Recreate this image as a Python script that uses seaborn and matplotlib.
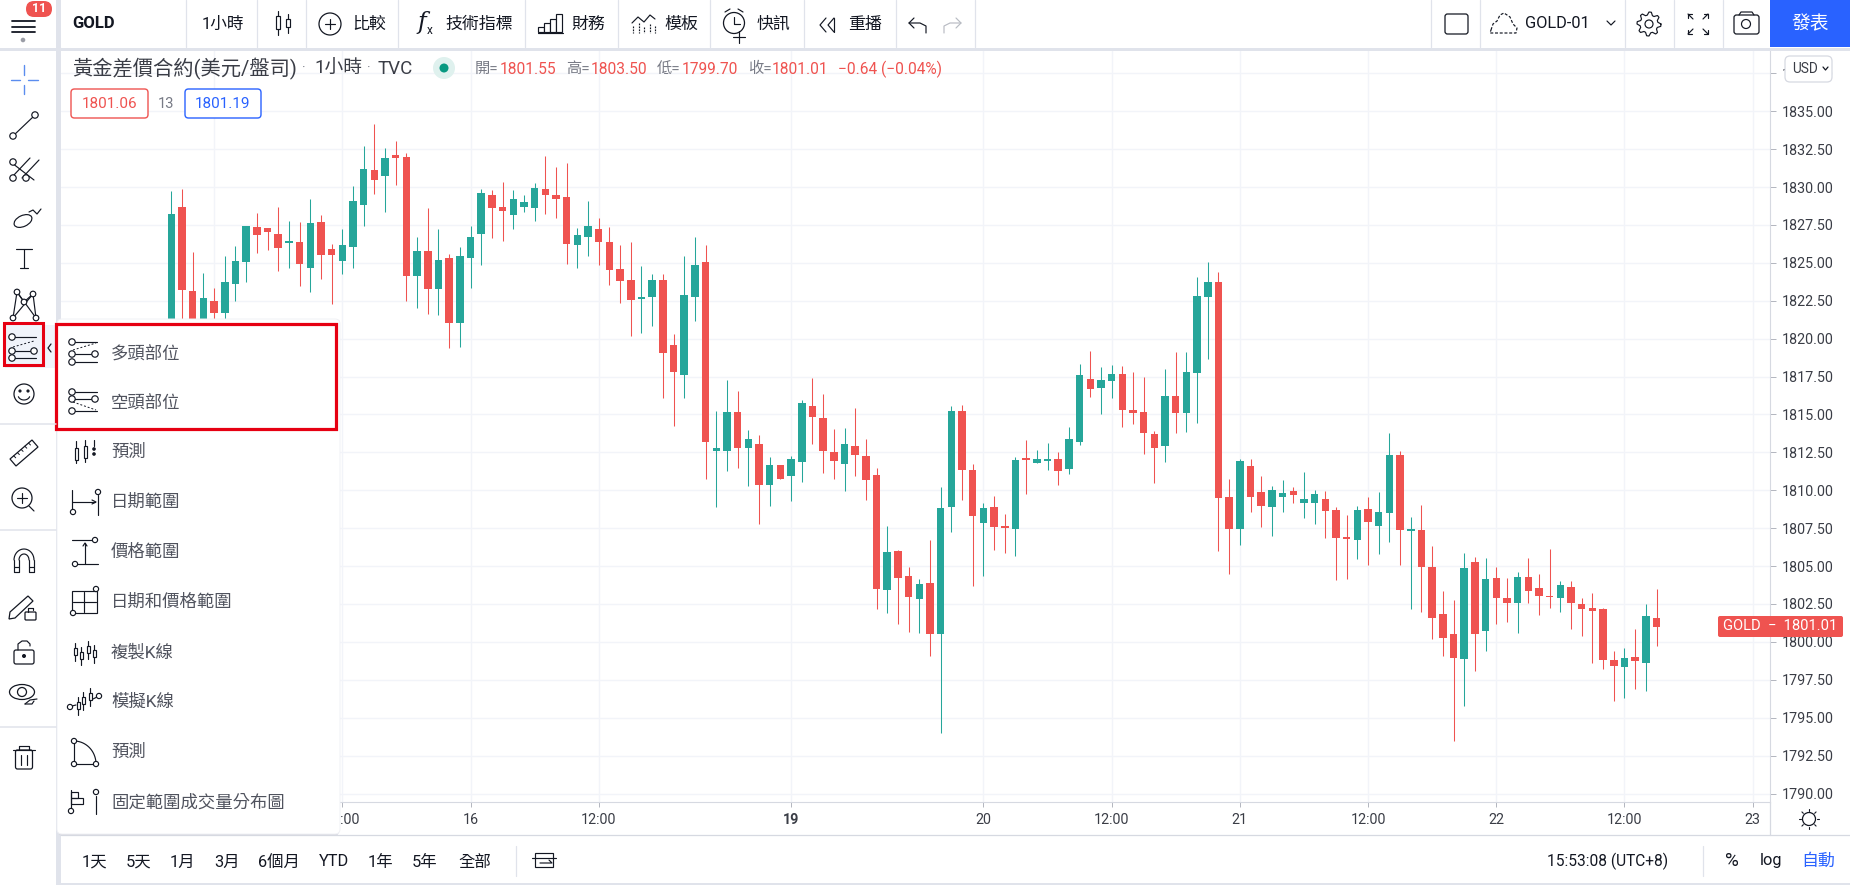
"""
GOLD 1h candlestick chart with the drawing-tools menu open
"""

import numpy as np
import pandas as pd
import matplotlib
matplotlib.use('Agg')
import matplotlib.pyplot as plt
import seaborn as sns
from matplotlib.patches import Rectangle, Circle, FancyBboxPatch, Ellipse, Polygon

# candle values
opens = [
    1820.58, 1828.70, 1823.15, 1820.80, 1822.50, 1821.70, 1823.62, 1825.07, 1827.38, 1827.31,
    1826.92, 1826.32, 1826.39, 1824.67, 1827.71, 1825.93, 1825.13, 1826.06, 1828.83, 1831.14,
    1830.74, 1832.13, 1831.99, 1824.14, 1825.79, 1823.29, 1825.33, 1821.04, 1825.33, 1826.92,
    1829.49, 1828.70, 1828.17, 1828.70, 1828.63, 1829.88, 1829.49, 1829.36, 1826.19, 1826.72,
    1827.25, 1826.39, 1824.60, 1823.88, 1822.63, 1822.76, 1823.88, 1819.59, 1817.61, 1822.76,
    1825.07, 1812.60, 1812.60, 1815.17, 1812.80, 1813.06, 1810.36, 1811.68, 1810.95, 1811.87,
    1815.57, 1814.78, 1812.53, 1811.74, 1812.93, 1812.27, 1811.02, 1803.43, 1806.00, 1804.35,
    1802.84, 1803.89, 1800.53, 1808.91, 1815.24, 1811.35, 1807.85, 1808.91, 1807.65, 1807.45,
    1812.14, 1811.81, 1811.94, 1812.07, 1811.41, 1813.19, 1817.35, 1816.76, 1817.22, 1817.68,
    1815.31, 1815.17, 1813.72, 1812.93, 1816.23, 1815.11, 1817.75, 1822.76, 1823.75, 1809.57,
    1807.45, 1811.61, 1809.90, 1808.91, 1809.57, 1809.96, 1809.17, 1809.17, 1809.43, 1808.70,
    1806.92, 1806.72, 1808.77, 1807.65, 1808.51, 1812.33, 1807.32, 1807.38, 1804.94, 1801.84,
    1800.52, 1798.87, 1805.27, 1800.72, 1804.22, 1802.90, 1802.57, 1804.28, 1803.56, 1803.03,
    1802.90, 1803.62, 1802.50, 1802.24, 1802.17, 1798.81, 1798.35, 1799.01, 1798.61, 1801.55,
]
closes = [
    1828.23, 1823.22, 1820.90, 1822.69, 1821.70, 1823.74, 1825.13, 1827.44, 1826.85, 1827.05,
    1825.99, 1826.39, 1824.94, 1827.64, 1825.53, 1825.53, 1826.19, 1829.09, 1831.20, 1830.48,
    1831.93, 1831.93, 1824.14, 1825.79, 1823.29, 1825.20, 1821.04, 1825.46, 1826.72, 1829.62,
    1828.63, 1828.43, 1829.22, 1829.03, 1829.95, 1829.49, 1829.22, 1826.26, 1826.85, 1827.44,
    1826.39, 1824.54, 1823.81, 1822.56, 1822.76, 1823.88, 1819.06, 1817.81, 1822.89, 1824.87,
    1813.19, 1812.80, 1815.17, 1812.80, 1813.39, 1810.36, 1811.68, 1810.75, 1812.07, 1815.77,
    1814.84, 1812.60, 1811.94, 1813.06, 1812.34, 1810.69, 1803.50, 1805.94, 1804.22, 1802.97,
    1803.83, 1800.53, 1808.84, 1815.24, 1811.35, 1808.31, 1808.84, 1807.59, 1807.52, 1812.01,
    1812.01, 1812.07, 1812.07, 1811.28, 1813.39, 1817.61, 1816.69, 1817.28, 1817.68, 1815.31,
    1815.11, 1813.79, 1812.80, 1816.23, 1815.11, 1817.81, 1822.83, 1823.75, 1809.50, 1807.45,
    1811.94, 1809.57, 1808.97, 1810.03, 1809.83, 1809.70, 1809.43, 1809.76, 1808.64, 1806.86,
    1806.79, 1808.70, 1807.91, 1808.57, 1812.33, 1807.38, 1807.45, 1804.94, 1801.58, 1800.26,
    1798.94, 1804.88, 1800.52, 1804.15, 1802.90, 1802.57, 1804.28, 1803.36, 1803.03, 1802.96,
    1803.76, 1802.57, 1802.17, 1802.04, 1798.81, 1798.41, 1798.94, 1798.74, 1801.71, 1801.01,
]
highs = [
    1829.75, 1829.88, 1825.72, 1824.34, 1823.35, 1825.46, 1826.12, 1827.44, 1828.30, 1827.31,
    1828.70, 1827.77, 1827.71, 1829.22, 1828.17, 1826.26, 1827.25, 1830.08, 1832.72, 1834.17,
    1832.59, 1833.05, 1832.26, 1826.72, 1828.63, 1827.25, 1825.60, 1826.06, 1827.44, 1829.88,
    1829.82, 1830.34, 1829.82, 1829.49, 1830.28, 1832.06, 1831.34, 1831.60, 1827.31, 1829.09,
    1827.97, 1827.38, 1826.19, 1826.39, 1824.80, 1824.28, 1824.28, 1820.32, 1825.46, 1826.72,
    1826.19, 1815.24, 1817.28, 1816.56, 1813.99, 1813.66, 1812.20, 1811.68, 1812.27, 1815.96,
    1817.42, 1816.36, 1814.05, 1814.12, 1815.44, 1813.39, 1811.48, 1807.65, 1806.07, 1804.95,
    1804.16, 1806.73, 1810.23, 1815.57, 1815.63, 1811.74, 1809.17, 1809.63, 1808.44, 1812.20,
    1813.33, 1812.67, 1813.13, 1812.53, 1814.18, 1818.34, 1819.20, 1818.14, 1818.27, 1818.21,
    1817.81, 1817.48, 1813.92, 1818.01, 1819.13, 1819.13, 1824.08, 1825.07, 1824.41, 1810.75,
    1812.07, 1812.07, 1810.95, 1810.29, 1810.69, 1810.23, 1811.21, 1810.02, 1809.96, 1808.90,
    1808.37, 1808.97, 1809.56, 1809.89, 1813.78, 1812.60, 1808.24, 1809.03, 1806.33, 1803.36,
    1802.77, 1805.87, 1805.60, 1805.54, 1804.94, 1804.22, 1804.61, 1805.54, 1804.48, 1806.13,
    1804.02, 1804.02, 1802.90, 1803.23, 1802.24, 1799.40, 1799.60, 1800.85, 1802.50, 1803.50,
]
lows = [
    1819.70, 1820.60, 1820.00, 1820.00, 1820.50, 1820.90, 1822.50, 1823.74, 1825.66, 1825.86,
    1824.47, 1824.67, 1823.49, 1823.09, 1823.96, 1822.30, 1824.28, 1824.67, 1827.44, 1829.55,
    1828.37, 1830.14, 1822.50, 1822.03, 1821.64, 1821.57, 1819.40, 1819.46, 1823.35, 1824.87,
    1826.65, 1826.45, 1827.25, 1828.37, 1827.77, 1828.23, 1827.97, 1824.94, 1824.67, 1825.46,
    1824.87, 1823.55, 1822.36, 1820.19, 1820.38, 1820.85, 1816.10, 1814.25, 1816.10, 1821.18,
    1810.75, 1808.91, 1811.28, 1811.48, 1810.29, 1807.78, 1808.97, 1810.75, 1809.30, 1810.56,
    1813.06, 1811.15, 1810.75, 1809.96, 1810.95, 1809.37, 1802.18, 1801.91, 1801.19, 1800.66,
    1800.59, 1799.08, 1794.00, 1807.26, 1809.37, 1803.69, 1804.35, 1806.07, 1805.87, 1805.67,
    1809.76, 1811.81, 1811.35, 1810.36, 1811.08, 1812.98, 1816.16, 1815.04, 1816.10, 1814.18,
    1814.38, 1812.40, 1810.49, 1811.87, 1813.79, 1813.85, 1814.45, 1818.67, 1806.00, 1804.49,
    1806.40, 1808.58, 1807.59, 1806.99, 1808.58, 1809.17, 1808.18, 1807.78, 1806.86, 1804.09,
    1804.15, 1805.47, 1805.07, 1805.80, 1806.59, 1805.07, 1802.17, 1801.97, 1800.19, 1799.07,
    1793.46, 1795.77, 1798.08, 1799.40, 1801.18, 1801.31, 1800.59, 1802.57, 1801.78, 1802.24,
    1801.97, 1800.85, 1800.39, 1798.61, 1798.21, 1796.10, 1796.30, 1796.89, 1796.76, 1799.70,
]

# axis labels
price_ticks = [1790 + 2.5 * n for n in range(20)]
time_tick_bars = [4, 16, 28, 40, 58, 76, 88, 100, 112, 124, 136, 148]
time_tick_labels = ['15', '12:00', '16', '12:00', '19', '20', '12:00', '21', '12:00', '22', '12:00', '23']

menu_items = ['多頭部位', '空頭部位', '預測', '日期範圍', '價格範圍', '日期和價格範圍',
              '複製K線', '模擬K線', '預測', '固定範圍成交量分布圖']
range_buttons = ['1天', '5天', '1月', '3月', '6個月', 'YTD', '1年', '5年', '全部']

RED = '#ef5350'
GREEN = '#26a69a'
DARK = '#131722'
TEXT = '#3a3d46'
GREY = '#787b86'
BORDER = '#e0e3eb'
GRID = '#f2f4f9'
BLUE = '#2962ff'
BOX_RED = '#e60012'

W, H = 1850, 885

sns.set_theme(style='white')
plt.rcParams['font.family'] = ['Roboto', 'Noto Sans CJK TC', 'DejaVu Sans']
plt.rcParams['axes.unicode_minus'] = False

fig = plt.figure(figsize=(W / 100, H / 100), dpi=100, facecolor=BORDER)


def pixel_axes(zorder):
    a = fig.add_axes([0, 0, 1, 1], zorder=zorder)
    a.set_xlim(0, W)
    a.set_ylim(H, 0)
    a.axis('off')
    a.patch.set_alpha(0)
    a.autoscale(False)
    return a


back = pixel_axes(0)
back.add_patch(Rectangle((61, 50), W - 61, 833, fc='white', ec='none'))

# chart axes
left, right, top, bottom = 61, 1770, 50, 802
ax = fig.add_axes([left / W, 1 - bottom / H, (right - left) / W, (bottom - top) / H], zorder=1)

df = pd.DataFrame({'bar': np.arange(len(opens)), 'open': opens, 'high': highs, 'low': lows, 'close': closes})
df['base'] = df[['open', 'close']].min(axis=1)
df['body'] = (df['close'] - df['open']).abs().clip(lower=0.1)
up = df[df['close'] >= df['open']]
down = df[df['close'] < df['open']]

for part, color in [(up, GREEN), (down, RED)]:
    ax.vlines(part['bar'], part['low'], part['high'], color=color, lw=0.75, zorder=2)
    sns.barplot(data=part, x='bar', y='body', bottom=part['base'].values, native_scale=True,
                color=color, saturation=1, width=0.7, errorbar=None, linewidth=0, ax=ax, zorder=3)

ax.set_xlim(-10.33, 149.62)
ax.set_ylim(1789.44, 1839.04)
ax.set_xlabel('')
ax.set_ylabel('')
ax.set_xticks(time_tick_bars, time_tick_labels)
ax.set_yticks(price_ticks, [f'{p:.2f}' for p in price_ticks])
ax.yaxis.tick_right()
ax.set_axisbelow(True)
ax.grid(True, color=GRID, lw=1)
ax.tick_params(axis='x', length=3.6, width=0.7, color='#b2b5be', labelsize=10.3, labelcolor=TEXT, pad=4.5, bottom=True)
ax.tick_params(axis='y', length=4.3, width=0.7, color='#b2b5be', labelsize=10.3, labelcolor=TEXT, pad=4.5, right=True)
ax.get_xticklabels()[4].set_fontweight('bold')
for name, spine in ax.spines.items():
    spine.set_visible(name in ('bottom', 'right'))
    spine.set_color('#d6d9e1')
    spine.set_linewidth(0.8)

# everything around the chart
ui = pixel_axes(5)


def rect(x, y, w, h, fc='white', ec='none', lw=0.9, **kw):
    ui.add_patch(Rectangle((x, y), w, h, fc=fc, ec=ec, lw=lw, **kw))


def rbox(x, y, w, h, r=3, fc='white', ec='none', lw=0.9, zorder=1):
    ui.add_patch(FancyBboxPatch((x, y), w, h, boxstyle=f'round,pad=0,rounding_size={r}',
                                fc=fc, ec=ec, lw=lw, zorder=zorder))


def seg(xs, ys, c=DARK, lw=0.85, ls='-'):
    ui.plot(xs, ys, color=c, lw=lw, ls=ls, solid_capstyle='round', zorder=2)


def dot(x, y, r=3.2, ec=DARK, fc='white', lw=0.85):
    ui.add_patch(Circle((x, y), r, fc=fc, ec=ec, lw=lw, zorder=3))


def txt(x, y, s, size=12.2, c=DARK, ha='left', **kw):
    ui.text(x, y, s, fontsize=size, color=c, ha=ha, va='center', zorder=6, **kw)


def candle(x, y0, y1, y2, y3, w=4):
    seg([x, x], [y0, y3])
    rect(x - w / 2, y1, w, y2 - y1, ec=DARK, lw=0.85, zorder=2.5)


# bars
rect(0, 0, W, 48)
rect(0, 48, 56, H - 48)
rect(61, 837, W - 61, 46)
for x in [186, 257, 306, 398, 525, 618, 710, 804, 896, 975, 1431, 1480, 1625, 1674, 1723]:
    seg([x, x], [0, 47], c=BORDER, lw=0.9)
seg([56, 61], [48, 48], c=BORDER)
rect(56, 0, 5, 48, fc=BORDER)
rect(0, 48, W, 2.5, fc=BORDER)
seg([61, W], [835, 835], c='#d6d9e1', lw=0.9)
seg([1770, 1770], [802, 835], c='#d6d9e1', lw=0.9)

# top bar: menu and symbol
for y in [21, 26.5, 32]:
    seg([12, 35], [y, y], lw=1.3)
dot(23, 40, 2.3, ec='none', fc='#9a9da6')
rbox(26, 1, 26, 16, r=8, fc=RED)
txt(39, 9, '11', size=9, c='white', ha='center', weight='bold')
txt(72, 24, 'GOLD', size=12, weight='bold')
txt(223, 24, '1小時', ha='center', size=12)

# top bar: tool buttons
candle(278, 11, 16, 29, 35)
candle(288, 14, 19, 27, 33)
ui.add_patch(Circle((330, 24), 11, fc='none', ec=DARK, lw=0.9))
seg([325, 335], [24, 24])
seg([330, 330], [19, 29])
txt(352, 24, '比較')
txt(417, 22, 'f', size=17, family='DejaVu Serif', style='italic')
txt(427, 31, 'x', size=8.5)
txt(445, 24, '技術指標')
for x, y in [(541, 27), (547, 23), (553, 19), (559, 14)]:
    rect(x - 3, y, 6, 32 - y, ec=DARK, lw=0.85)
seg([538, 563], [32.5, 32.5])
txt(571, 24, '財務')
seg([632, 638, 644, 650, 655], [23, 17, 22, 15, 19])
for x, y in [(633, 26), (639, 23), (644, 27), (650, 24), (655, 26)]:
    seg([x, x], [y, 33], ls=(0, (1.5, 1)))
txt(664, 24, '模板')
ui.add_patch(Circle((734, 23), 10.5, fc='none', ec=DARK, lw=0.9))
seg([734, 734, 740], [17, 24, 24])
seg([725, 730], [12, 9])
seg([738, 743], [9, 12])
seg([733, 745], [37, 37])
seg([739, 739], [31, 43])
txt(757, 24, '快訊')
seg([826, 820, 826], [18, 25, 32])
seg([834, 828, 834], [18, 25, 32])
seg([834, 834], [18, 32])
txt(848, 24, '重播')
seg([914, 909, 914], [18, 23, 28])
seg([909, 920, 926, 926], [23, 23, 26, 33])
seg([956, 961, 956], [18, 23, 28], c='#b8bbc3')
seg([961, 950, 944, 944], [23, 23, 26, 33], c='#b8bbc3')

# top bar: right side
rbox(1445, 14, 23, 20, r=2.5, ec=DARK, lw=0.9)
seg([1491, 1493, 1497, 1500, 1504, 1510, 1513, 1517, 1516, 1490, 1491],
    [30, 24, 21, 15, 13, 17, 24, 28, 33, 33, 30], ls=(0, (2.5, 1.5)))
txt(1525, 24, 'GOLD-01', size=11.8)
seg([1607, 1611, 1615], [21, 25, 21])
ui.add_patch(Circle((1649, 24), 4, fc='none', ec=DARK, lw=0.85))
gear_a = np.radians(np.arange(0, 360.1, 11.25))
gear_r = np.where(np.arange(len(gear_a)) % 4 < 2, 12, 9)
seg(1649 + gear_r * np.cos(gear_a), 24 + gear_r * np.sin(gear_a))
for sx in (-1, 1):
    for sy in (-1, 1):
        seg([1698 + sx * 5, 1698 + sx * 10], [24 + sy * 5, 24 + sy * 10])
        seg([1698 + sx * 10, 1698 + sx * 10, 1698 + sx * 6], [24 + sy * 6, 24 + sy * 10, 24 + sy * 10])
rbox(1734, 15, 25, 19, r=2.5, ec=DARK, lw=0.9)
seg([1739, 1741, 1752, 1754], [15, 12, 12, 15])
ui.add_patch(Circle((1746, 24), 4.5, fc='none', ec=DARK, lw=0.85))
rect(1770, 0, 80, 47, fc=BLUE)
txt(1810, 24, '發表', size=13.5, c='white', ha='center')

# legend row
txt(72, 69, '黃金差價合約(美元/盤司)', size=14.6, c=TEXT)
txt(302, 69, '·', size=10, c=GREY)
txt(314, 69, '1小時', size=13.5, c=TEXT)
txt(367, 69, '·', size=10, c=GREY)
txt(378, 69, 'TVC', size=13.5, c=TEXT)
ui.add_patch(Circle((444, 68), 11, fc='#dff1ee', ec='none'))
ui.add_patch(Circle((444, 68), 4.5, fc='#089981', ec='none'))
ohlc = [(475, '開=', 500, '1801.55'), (566, '高=', 591, '1803.50'),
        (657, '低=', 682, '1799.70'), (748, '收=', 772, '1801.01')]
for x0, label, x1, value in ohlc:
    txt(x0, 69, label, size=11, c=GREY)
    txt(x1, 69, value, size=11.2, c=RED)
txt(838, 69, '−0.64 (−0.04%)', size=11.2, c=RED)
rbox(71, 89, 77, 29, r=3.5, ec=RED, lw=1)
txt(109.5, 103.5, '1801.06', size=11, c=RED, ha='center')
txt(166, 104, '13', size=10.5, c=GREY, ha='center')
rbox(185, 89, 76, 29, r=3.5, ec=BLUE, lw=1)
txt(223, 103.5, '1801.19', size=11, c=BLUE, ha='center')

# price scale extras
rbox(1785, 56, 47, 26, r=5, ec='#d6d9e1', lw=0.9)
txt(1805, 69, 'USD', size=9.8, c=TEXT, ha='center')
seg([1823, 1825.5, 1828], [67, 70, 67], lw=0.9)
rbox(1718, 616, 125, 21, r=2, fc=RED)
txt(1780.5, 626.5, 'GOLD  −  1801.01', size=10.6, c='white', ha='center')
ui.add_patch(Circle((1809, 819), 6.5, fc='none', ec=DARK, lw=0.9))
for a in np.arange(0, 360, 45):
    ca, sa = np.cos(np.radians(a)), np.sin(np.radians(a))
    seg([1809 + 8 * ca, 1809 + 10 * ca], [819 + 8 * sa, 819 + 10 * sa], lw=0.8)

# left toolbar
for y in [424, 530, 726.5]:
    seg([0, 56], [y, y], c=BORDER, lw=1.1)
blue_l = '#5b8def'
seg([11, 20], [80, 80], c=blue_l, lw=1)
seg([28, 38], [80, 80], c=blue_l, lw=1)
seg([24, 24], [65, 75], c=blue_l, lw=1)
seg([24, 24], [85, 94], c=blue_l, lw=1)
seg([13, 34], [136, 116])
dot(13, 136)
dot(35, 115)
for dx, dy in [(0, 0), (9, 2)]:
    seg([13 + dx, 30 + dx], [176 + dy, 158 + dy])
seg([12, 34], [163, 180])
dot(13, 162)
dot(13, 178)
dot(26, 178)
ui.add_patch(Ellipse((23, 221), 19, 11, angle=-25, fc='none', ec=DARK, lw=0.85))
seg([29, 33, 37, 41], [212, 210, 214, 209])
seg([16, 32], [249, 249])
seg([24, 24], [249, 268])
seg([20, 28], [268, 268])
pat = [(13, 318), (17, 292), (24, 302), (33, 294), (36, 318)]
seg([p[0] for p in pat], [p[1] for p in pat])
seg([17, 36], [292, 318])
seg([13, 33], [318, 294])
for p in pat:
    dot(p[0], p[1], 2.8)

# selected tool with its highlight
rect(5, 325, 51, 43, fc='#f0f3fa')


def position_icon(x0, x1, y0, y1, y2, diag):
    seg([x0, x1], [y0, y0])
    seg([x0, x1], [y1, y1])
    seg([x0, x1], [y2, y2])
    seg(*diag, lw=0.7, ls=(0, (2, 2)))
    dot(x0 + 3, y0)
    dot(x1 - 2, y1)
    dot(x0 + 3, y1)
    dot(x0 + 3, y2)


position_icon(9, 36, 337, 351, 358, ([13, 34], [347, 341]))
rect(4, 323, 39, 42, fc='none', ec=BOX_RED, lw=2.2)
seg([51, 48, 51], [344, 348, 352], lw=0.9)

ui.add_patch(Circle((24, 394), 10, fc='none', ec=DARK, lw=0.9))
dot(20, 391, 1, ec=DARK, fc=DARK)
dot(28, 391, 1, ec=DARK, fc=DARK)
ang = np.radians(np.linspace(20, 160, 12))
seg(24 + 6 * np.cos(ang), 395 + 5 * np.sin(ang))
ui.add_patch(Polygon([(10, 459), (32, 440), (38, 447), (16, 466)], fc='none', ec=DARK, lw=0.9))
for i in range(1, 6):
    seg([10 + 3.7 * i, 12 + 3.7 * i], [459 - 3.2 * i, 461 - 3.2 * i], lw=0.7)
ui.add_patch(Circle((22, 498), 10, fc='none', ec=DARK, lw=0.9))
seg([17, 27], [498, 498])
seg([22, 22], [493, 503])
seg([29, 34], [506, 511])
# magnet
ang = np.radians(np.linspace(180, 360, 20))
seg(24 + 10 * np.cos(ang), 560 + 11 * np.sin(ang))
seg(24 + 5 * np.cos(ang), 560 + 6 * np.sin(ang))
seg([14, 14, 19, 19], [560, 572, 572, 560])
seg([34, 34, 29, 29], [560, 572, 572, 560])
seg([14, 19], [567, 567])
seg([29, 34], [567, 567])
# pencil, lock, eye
ui.add_patch(Polygon([(10, 612), (28, 596), (33, 601), (15, 618), (9, 619)], fc='none', ec=DARK, lw=0.9))
rbox(25, 612, 11, 8, r=1, ec=DARK)
seg([28, 28, 33, 33], [612, 608, 608, 610])
rbox(14, 650, 20, 14, r=2, ec=DARK)
seg([18, 18, 22, 27, 30, 30], [650, 644, 641, 641, 644, 646])
dot(24, 656, 1.4, ec=DARK, fc=DARK)
ui.add_patch(Ellipse((22, 692), 25, 15, fc='none', ec=DARK, lw=0.9))
ui.add_patch(Circle((22, 692), 4.5, fc='none', ec=DARK, lw=0.9))
seg([25, 30, 37], [704, 700, 699])
seg([25, 32, 34], [704, 704, 701])
# trash
seg([13, 35], [750, 750])
seg([19, 19, 29, 29], [750, 746, 746, 750])
rbox(15.5, 750, 17, 19, r=2, ec=DARK)
seg([21, 21], [755, 765])
seg([27, 27], [755, 765])

# drawing-tools menu
rbox(58, 326, 281, 510, r=5, fc='#d9dbe2', ec='none')
rbox(57, 319, 283, 515, r=5, fc='white', ec='#f0f1f5', lw=0.7, zorder=1)
item_y = [353, 403, 452, 502, 552, 602, 652, 702, 752, 802]
for label, y in zip(menu_items, item_y):
    txt(111, y, label, size=12.5, c='#50535e')
rect(55.5, 324, 280.5, 105, fc='none', ec=BOX_RED, lw=2.3)

position_icon(69, 97, 342, 354, 362, ([73, 96], [350, 343]))
position_icon(69, 97, 392, 399, 411, ([73, 96], [402, 410]))
# forecast candles
candle(76, 441, 448, 460, 463, w=3)
candle(85, 440, 446, 458, 462, w=3)
seg([94, 94], [440, 446])
dot(94, 449, 1.2, fc=DARK)
dot(94, 454, 1.2, fc=DARK)
# date range
seg([72, 72], [490, 511])
seg([72, 95], [502, 502])
seg([92, 96, 92], [500, 502, 504])
seg([98, 98], [495, 515])
dot(73, 512, 2.6)
dot(98, 492, 2.6)
# price range
seg([72, 92], [540, 540])
seg([75, 98], [564, 564])
seg([85, 85], [543, 564])
seg([83, 85, 87], [546, 543, 546])
dot(95, 540, 2.6)
dot(75, 564, 2.6)
# date and price range
rect(72, 591, 25, 22, fc='none', ec=DARK, lw=0.85)
seg([73, 96], [602, 602])
seg([84, 84], [592, 612])
dot(73, 613, 2.6)
dot(96, 589, 2.6)
# bar pattern
for x, y0 in [(75, 643), (81, 647), (88, 641), (94, 645)]:
    candle(x, y0, y0 + 5, y0 + 12, y0 + 18, w=3)
# simulated bars
for x, y0 in [(78, 697), (83, 692), (90, 688)]:
    candle(x, y0, y0 + 5, y0 + 12, y0 + 18, w=3)
seg([72, 76], [706, 705])
seg([93, 97], [699, 697])
dot(70, 707, 2.6)
dot(99, 696, 2.6)
# projection arc
seg([74, 74], [741, 764])
seg([74, 96], [764, 764])
ang = np.radians(np.linspace(0, 90, 20))
seg(74 + 22 * np.sin(ang), 764 - 23 * np.cos(ang))
dot(74, 741, 2.6)
dot(74, 764, 2.6)
dot(96, 764, 2.6)
# fixed range volume
seg([71, 71], [790, 808])
rect(71, 792, 7, 6, fc='none', ec=DARK, lw=0.85)
rect(71, 798, 12, 6, fc='none', ec=DARK, lw=0.85)
dot(71, 811, 2.6)
seg([96, 96], [796, 814])
dot(96, 792, 2.6)

# bottom bar
range_x = [82, 126, 170, 214, 258, 319, 368, 412, 458]
for x, label in zip(range_x, range_buttons):
    txt(x, 862, label, size=11.8, c=DARK)
seg([516, 516], [846, 876], c=BORDER, lw=0.9)
rect(535, 853, 18, 14, fc='none', ec=DARK, lw=0.85)
seg([532, 556], [858, 858])
seg([540, 552, 549], [863, 863, 860])
txt(1547, 861, '15:53:08 (UTC+8)', size=11.2)
seg([1703, 1703], [846, 876], c=BORDER, lw=0.9)
txt(1732, 861, '%', size=13.5, ha='center')
txt(1771, 861, 'log', size=11.8, ha='center')
txt(1818, 861, '自動', size=12.2, c=BLUE, ha='center')

fig.savefig('out.png', dpi=100, facecolor=fig.get_facecolor())
